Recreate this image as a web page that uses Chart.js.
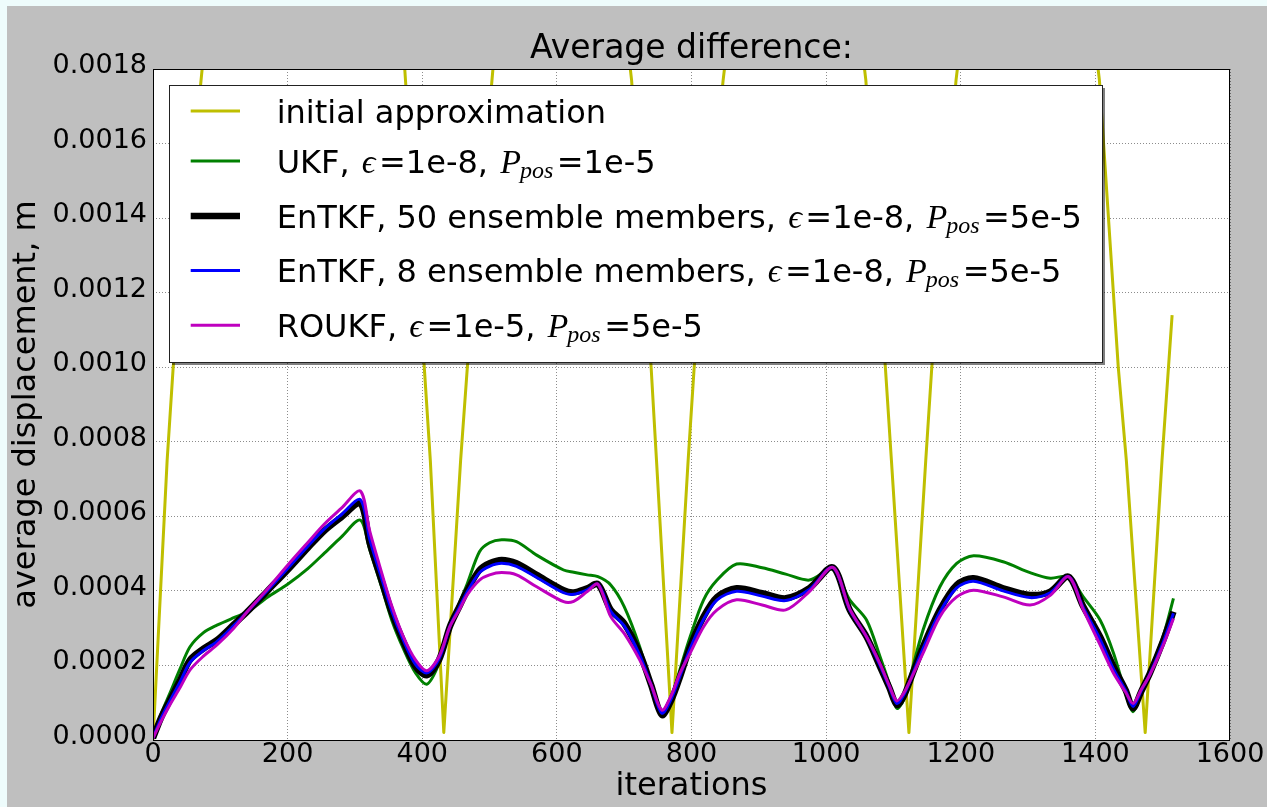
<!DOCTYPE html>
<html>
<head>
<meta charset="utf-8">
<script src="https://cdn.jsdelivr.net/npm/chart.js@4.4.1/dist/chart.umd.min.js"></script>
<style>
  html, body { margin: 0; padding: 0; width: 1267px; height: 807px; overflow: hidden; background: #eefcfc; }
  #wrap { position: absolute; left: 7px; top: 6px; width: 1260px; height: 801px; }
  canvas { display: block; }
</style>
</head>
<body>
<div id="wrap"><canvas id="c" width="1260" height="801"></canvas></div>
<script>
// ---- data -------------------------------------------------------------
// iteration grid shared by the filter runs
const iterations = [0,12,25,40,55,75,95,120,140,170,
  200,230,255,280,308,322,340,355,372,390,
  407,425,441,455,467,485,500,518,540,570,
  610,625,645,661,680,700,723,740,756,770,
  783,798,818,838,867,905,940,975,1010,1035,
  1060,1080,1094,1105,1115,1125,1144,1169,1194,1219,
  1263,1303,1333,1360,1382,1407,1427,1445,1456,1468,
  1481,1501,1516];

const ukf = [0.000005,0.00007,0.000125,0.00019,0.00025,0.000288,0.000308,0.000328,0.000343,0.000383,
  0.000418,0.00046,0.000502,0.000545,0.00059,0.00051,0.000408,0.00032,0.000245,0.00018,
  0.00015,0.000206,0.000304,0.000367,0.00042,0.000505,0.000529,0.000537,0.000532,0.000496,
  0.000456,0.00045,0.000443,0.000438,0.000416,0.000358,0.00025,0.000143,0.000065,0.000113,
  0.00019,0.000277,0.000376,0.000429,0.000472,0.000462,0.000445,0.000429,0.000458,0.000376,
  0.000322,0.000224,0.00015,0.000085,0.000107,0.00017,0.000295,0.000411,0.000474,0.000494,
  0.000478,0.000449,0.000434,0.000438,0.000384,0.000322,0.000233,0.000125,0.000076,0.000125,
  0.000185,0.00028,0.00038];

const entkf50 = [0.000005,0.00006,0.000107,0.00016,0.000215,0.000245,0.000268,0.00031,0.000344,0.0004,
  0.000456,0.000515,0.000562,0.000598,0.000635,0.000528,0.000425,0.00034,0.000264,0.000197,
  0.000174,0.000215,0.000304,0.000358,0.000402,0.000456,0.000474,0.000483,0.000474,0.000443,
  0.000402,0.000396,0.000407,0.000418,0.000349,0.000313,0.000233,0.000148,0.000067,0.000107,
  0.00017,0.00025,0.000331,0.000384,0.000407,0.000394,0.00038,0.000407,0.000463,0.000349,
  0.000277,0.000197,0.00014,0.000094,0.000116,0.000161,0.00025,0.000349,0.000416,0.000434,
  0.000407,0.000389,0.000398,0.000438,0.000358,0.000277,0.000197,0.000134,0.000085,0.00013,
  0.000179,0.000268,0.000344];

const entkf8 = [0.000005,0.000058,0.000104,0.000155,0.000208,0.00024,0.000264,0.000307,0.000344,0.000401,
  0.00046,0.00052,0.000567,0.000605,0.000645,0.000538,0.000432,0.000345,0.000268,0.000203,
  0.00018,0.000218,0.000304,0.000355,0.000398,0.000449,0.000466,0.000474,0.000466,0.000436,
  0.000395,0.000391,0.000403,0.000418,0.000345,0.000306,0.000228,0.000148,0.000072,0.000111,
  0.000172,0.000245,0.000324,0.000376,0.000399,0.000386,0.000374,0.000404,0.000463,0.00035,
  0.000277,0.0002,0.000142,0.000098,0.00012,0.00016,0.000245,0.000343,0.000408,0.000426,
  0.0004,0.000382,0.000395,0.000438,0.000355,0.00027,0.00019,0.000132,0.00009,0.000132,
  0.000177,0.000263,0.00034];

const roukf = [0.000005,0.00005,0.000094,0.00014,0.000188,0.000225,0.000255,0.0003,0.000344,0.000405,
  0.000469,0.00053,0.00058,0.000622,0.000668,0.00056,0.000447,0.000358,0.000277,0.000215,
  0.000186,0.000224,0.000304,0.000349,0.00039,0.000429,0.000443,0.000449,0.000443,0.000411,
  0.000371,0.000372,0.000398,0.000418,0.000331,0.000286,0.000215,0.000148,0.00008,0.00012,
  0.00018,0.000233,0.000304,0.000349,0.000376,0.000362,0.000349,0.000398,0.000463,0.000352,
  0.000277,0.000205,0.000145,0.000105,0.000125,0.00016,0.000233,0.000331,0.000384,0.000402,
  0.000384,0.000362,0.000388,0.000438,0.00035,0.000255,0.000179,0.000128,0.000098,0.000135,
  0.000175,0.000255,0.000326];

// initial approximation (large oscillation, mostly above the visible range)
const initialIter = [0,21,30,73,220,374,403,412,432,457,467,505,608,711,740,748,771,795,804,847,
  953,1059,1088,1097,1123,1148,1157,1193,1300,1406,1434,1446,1474,1499,1514];
const initialVals = [0,0.00075,0.001,0.0018,0.0034,0.0018,0.001,0.00075,0.00002,0.00075,0.001,0.0018,
  0.0034,0.00177,0.001,0.00075,0.00002,0.00075,0.001,0.00177,0.0034,0.00177,0.001,0.00075,0.00002,
  0.00075,0.001,0.00177,0.0034,0.00177,0.001,0.00075,0.00002,0.00075,0.00114];

const xTicks = [0,200,400,600,800,1000,1200,1400,1600];
const xTickLabels = ['0','200','400','600','800','1000','1200','1400','1600'];
const yTicks = [0,0.0002,0.0004,0.0006,0.0008,0.001,0.0012,0.0014,0.0016,0.0018];
const yTickLabels = ['0.0000','0.0002','0.0004','0.0006','0.0008','0.0010','0.0012','0.0014','0.0016','0.0018'];

// legend text pieces: n = plain text, m = math italic, s = math subscript
const legendLabels = [
  [['initial approximation','n']],
  [['UKF, ','n'],['\u03f5','m'],['=1e-8, ','n'],['P','m'],['pos','s'],['=1e-5','n']],
  [['EnTKF, 50 ensemble members, ','n'],['\u03f5','m'],['=1e-8, ','n'],['P','m'],['pos','s'],['=5e-5','n']],
  [['EnTKF, 8 ensemble members, ','n'],['\u03f5','m'],['=1e-8, ','n'],['P','m'],['pos','s'],['=5e-5','n']],
  [['ROUKF, ','n'],['\u03f5','m'],['=1e-5, ','n'],['P','m'],['pos','s'],['=5e-5','n']]
];

// ---- helpers ------------------------------------------------------------
const pts = (xs, ys) => xs.map((x, i) => ({x: x, y: ys[i]}));
const FONT = 'DejaVu Sans';

function series(label, xs, ys, color, width, order) {
  return {
    label: label, data: pts(xs, ys), borderColor: color, backgroundColor: color,
    borderWidth: width, pointRadius: 0, fill: false, tension: 0.3, clip: 0, order: order,
    borderCapStyle: 'butt', borderJoinStyle: 'round'
  };
}

const datasets = [
  Object.assign(series('initial approximation', initialIter, initialVals, '#bfbf00', 3, 4), {tension: 0}),
  series('UKF', iterations, ukf, '#008000', 3, 3),
  series('EnTKF 50', iterations, entkf50, '#000000', 6.5, 2),
  series('EnTKF 8', iterations, entkf8, '#0000ff', 3, 1),
  series('ROUKF', iterations, roukf, '#bf00bf', 3, 0)
];

// figure background, white axes face and axes frame
const framePlugin = {
  id: 'frame',
  beforeDraw(chart) {
    const {ctx, chartArea: a} = chart;
    ctx.save();
    ctx.fillStyle = '#bfbfbf';
    ctx.fillRect(0, 0, chart.width, chart.height);
    ctx.fillStyle = '#ffffff';
    ctx.fillRect(a.left, a.top, a.right - a.left, a.bottom - a.top);
    ctx.restore();
  },
  afterDatasetsDraw(chart) {
    const {ctx, chartArea: a} = chart;
    ctx.save();
    ctx.strokeStyle = '#000000';
    ctx.lineWidth = 1;
    ctx.strokeRect(Math.round(a.left) + 0.5, Math.round(a.top) + 0.5,
                   Math.round(a.right - a.left) - 1, Math.round(a.bottom - a.top));
    ctx.restore();
  }
};

// legend with mathtext-like pieces
const richLegend = {
  id: 'richLegend',
  afterDraw(chart) {
    const ctx = chart.ctx;
    const bx = 162, by = 79, bw = 933, bh = 277;
    const rows = [105, 155, 210, 264.5, 319.3];
    const fonts = {
      n: '32px "DejaVu Sans"',
      m: 'italic 34px "Liberation Serif", "DejaVu Serif"',
      s: 'italic 24px "Liberation Serif", "DejaVu Serif"'
    };
    const drop = {n: 0, m: 0, s: 5};
    ctx.save();
    ctx.fillStyle = 'rgba(0,0,0,0.5)';
    ctx.fillRect(bx + 3, by + 3, bw, bh);
    ctx.fillStyle = '#ffffff';
    ctx.fillRect(bx, by, bw, bh);
    ctx.strokeStyle = '#222222';
    ctx.lineWidth = 1;
    ctx.strokeRect(bx + 0.5, by + 0.5, bw, bh);
    chart.data.datasets.forEach((ds, r) => {
      const y = rows[r];
      ctx.strokeStyle = ds.borderColor;
      ctx.lineWidth = ds.borderWidth;
      ctx.lineCap = 'butt';
      ctx.beginPath();
      ctx.moveTo(183.7, y);
      ctx.lineTo(233, y);
      ctx.stroke();
      let x = 269.7;
      const base = y + 11.5;
      ctx.fillStyle = '#000000';
      ctx.textBaseline = 'alphabetic';
      ctx.textAlign = 'left';
      const parts = legendLabels[r];
      parts.forEach(([t, k], j) => {
        const next = parts[j + 1];
        if (k === 'm') x += 2;
        ctx.font = fonts[k];
        ctx.fillText(t, x, base + drop[k]);
        x += ctx.measureText(t).width;
        if (k === 'm' && next && next[1] === 's') x -= 1;
        else if (k === 'm' || k === 's') x += 3.5;
      });
    });
    ctx.restore();
  }
};

new Chart(document.getElementById('c'), {
  type: 'line',
  data: { datasets: datasets },
  plugins: [framePlugin, richLegend],
  options: {
    responsive: false,
    animation: false,
    devicePixelRatio: 1,
    layout: { padding: { left: 0, right: 37, top: 0, bottom: 0 } },
    plugins: {
      legend: { display: false },
      tooltip: { enabled: false },
      title: {
        display: true, fullSize: false,
        text: 'Average difference:', color: '#000000',
        font: { family: FONT, size: 33, weight: 'normal', lineHeight: 1.0 },
        padding: { top: 27, bottom: 3 }
      }
    },
    scales: {
      x: {
        type: 'linear', min: 0, max: 1600,
        afterBuildTicks: s => { s.ticks = xTicks.map(v => ({value: v})); },
        afterFit: s => { s.height = 67; },
        ticks: {
          autoSkip: false, maxRotation: 0, padding: 1, color: '#000000',
          font: { family: FONT, size: 27, lineHeight: 1 },
          callback: (v, i) => xTickLabels[i]
        },
        grid: { color: 'rgba(0,0,0,0.45)', lineWidth: 1, drawTicks: false },
        border: { display: false, dash: [1, 2] },
        title: {
          display: true, text: 'iterations', color: '#000000',
          font: { family: FONT, size: 32, lineHeight: 1.2 },
          padding: { top: 0, bottom: 1 }
        }
      },
      y: {
        type: 'linear', min: 0, max: 0.0018,
        afterBuildTicks: s => { s.ticks = yTicks.map(v => ({value: v})); },
        afterFit: s => { s.width = 146; },
        ticks: {
          autoSkip: false, padding: 6, labelOffset: -3, color: '#000000',
          font: { family: FONT, size: 27, lineHeight: 1 },
          callback: (v, i) => yTickLabels[i]
        },
        grid: { color: 'rgba(0,0,0,0.45)', lineWidth: 1, drawTicks: false },
        border: { display: false, dash: [1, 2] },
        title: {
          display: true, text: 'average displacement, m', color: '#000000',
          font: { family: FONT, size: 32, lineHeight: 1.2 },
          padding: { top: 0, bottom: 0 }
        }
      }
    }
  }
});
</script>
</body>
</html>
